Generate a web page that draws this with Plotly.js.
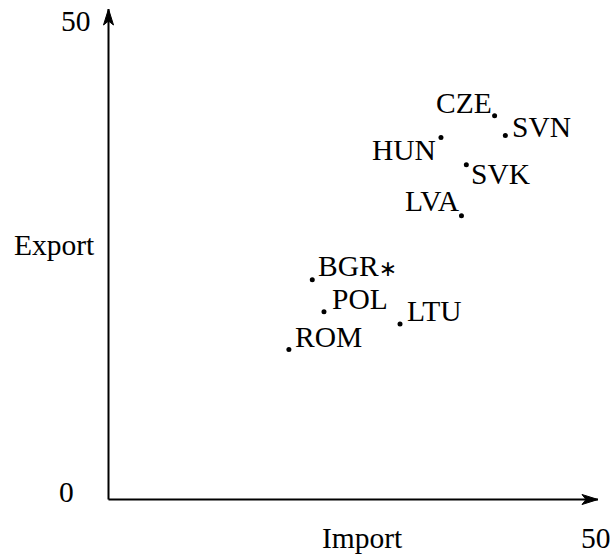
<!DOCTYPE html>
<html><head><meta charset="utf-8">
<script src="https://cdn.plot.ly/plotly-3.0.1.min.js"></script>
<style>html,body{margin:0;padding:0;background:#fff}#chart{width:613px;height:557px}</style>
</head><body><div id="chart"></div>
<script>
// Data (Import on x, Export on y)
const countries = ['CZE','SVN','HUN','SVK','LVA','BGR∗','POL','LTU','ROM'];
const importVals = [39.6, 40.7, 34.1, 36.7, 36.2, 20.9, 22.1, 29.9, 18.5];
const exportVals = [40.7, 38.6, 38.4, 35.5, 30.1, 23.3, 19.9, 18.6, 15.9];
const xTickVals = [50];
const xTickText = ['50'];
const yTickVals = [0, 50];
const yTickText = ['0', '50'];

// label placement: [xanchor, xshift, yshift]
const labelPos = {
  'CZE': ['right', -1, 13],
  'SVN': ['left', 5, 9],
  'HUN': ['right', -3, -13],
  'SVK': ['left', 3, -9],
  'LVA': ['right', 1, 15],
  'BGR∗': ['left', 4, 14],
  'POL': ['left', 6, 13],
  'LTU': ['left', 5, 13],
  'ROM': ['left', 4, 13]
};

const W = 613, H = 557;
const X0PX = 108.5, XS = 9.75, Y0PX = 499.5, YS = 9.43;
const xr = [(0 - X0PX) / XS, (W - X0PX) / XS];
const yr = [(Y0PX - H) / YS, (Y0PX - 0) / YS];
const xTip = (598 - X0PX) / XS;
const yTip = (Y0PX - 9) / YS;

const font = {family: 'Liberation Serif, Times New Roman, serif', size: 29.5, color: '#000'};

function fmt(label) {
  return label.replace('∗', '<span style="font-size:22px;font-family:DejaVu Sans">∗</span>');
}

const annotations = [];
countries.forEach((c, i) => {
  const p = labelPos[c];
  annotations.push({x: importVals[i], y: exportVals[i], xref: 'x', yref: 'y', text: fmt(c),
    showarrow: false, xanchor: p[0], yanchor: 'middle', xshift: p[1], yshift: p[2], font: font});
});
const yLabShift = {'0': -42, '50': -33};
yTickVals.forEach((v, i) => {
  annotations.push({x: 0, y: v, xref: 'x', yref: 'y', text: yTickText[i], showarrow: false,
    xanchor: 'center', yanchor: 'middle', xshift: yLabShift[yTickText[i]], yshift: 7.5, font: font});
});
xTickVals.forEach((v, i) => {
  annotations.push({x: v, y: 0, xref: 'x', yref: 'y', text: xTickText[i], showarrow: false,
    xanchor: 'center', yanchor: 'middle', yshift: -38, font: font});
});
annotations.push({x: 26, y: 0, xref: 'x', yref: 'y', text: 'Import', showarrow: false,
  xanchor: 'center', yanchor: 'middle', yshift: -38, font: font});
annotations.push({x: 0, y: 27, xref: 'x', yref: 'y', text: 'Export', showarrow: false,
  xanchor: 'center', yanchor: 'middle', xshift: -54, font: font});

const shapes = [
  {type: 'line', xref: 'x', yref: 'y', x0: 0, y0: 0, x1: xTip, y1: 0, line: {color: '#000', width: 2}},
  {type: 'line', xref: 'x', yref: 'y', x0: 0, y0: 0, x1: 0, y1: yTip, line: {color: '#000', width: 2}},
  {type: 'path', xref: 'x', yref: 'y', xsizemode: 'pixel', ysizemode: 'pixel', xanchor: xTip, yanchor: 0,
    path: 'M 0 0 L -16 5 L -12 0 L -16 -5 Z', fillcolor: '#000', line: {color: '#000', width: 1}},
  {type: 'path', xref: 'x', yref: 'y', xsizemode: 'pixel', ysizemode: 'pixel', xanchor: 0, yanchor: yTip,
    path: 'M 0 0 L 5 -16 L 0 -12 L -5 -16 Z', fillcolor: '#000', line: {color: '#000', width: 1}}
];

const trace = {x: importVals, y: exportVals, mode: 'markers', type: 'scatter',
  marker: {color: '#000', size: 5}, hoverinfo: 'skip', cliponaxis: false};

Plotly.newPlot('chart', [trace], {
  width: W, height: H, margin: {l: 0, r: 0, t: 0, b: 0},
  paper_bgcolor: '#fff', plot_bgcolor: '#fff', showlegend: false,
  xaxis: {range: xr, visible: false, fixedrange: true},
  yaxis: {range: yr, visible: false, fixedrange: true},
  shapes: shapes, annotations: annotations
}, {staticPlot: true, displayModeBar: false});
</script></body></html>
